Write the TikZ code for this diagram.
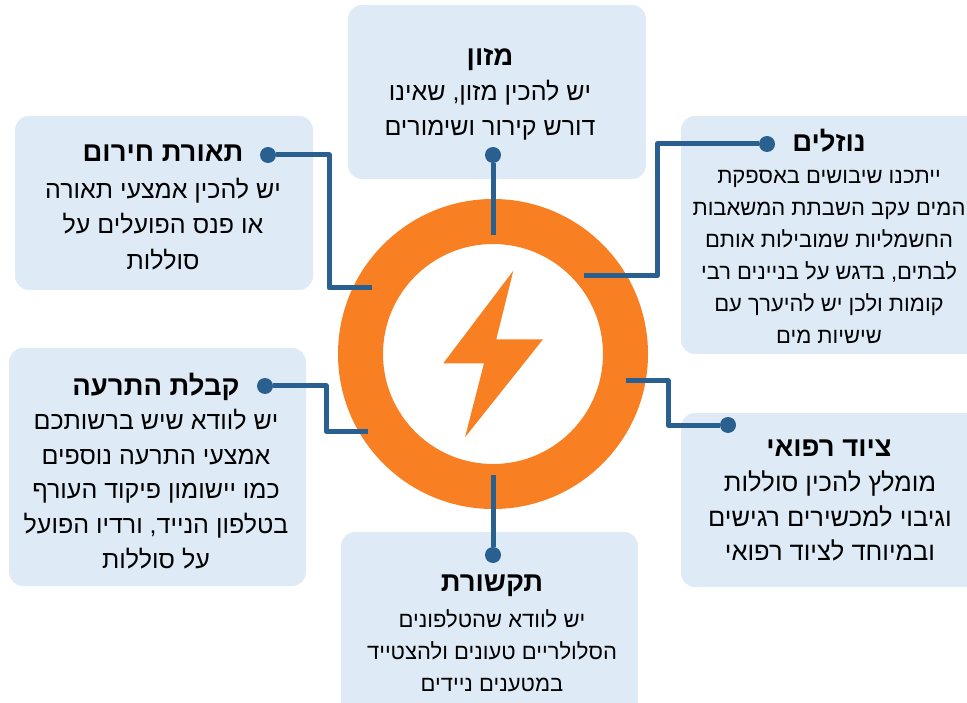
\documentclass[tikz,border=0pt]{standalone}
\usepackage{fontspec}
\TeXXeTstate=1
\setmainfont[Script=Hebrew]{Liberation Sans}
\definecolor{boxfill}{HTML}{DEEBF7}
\definecolor{linkcol}{HTML}{2A6090}
\definecolor{ringcol}{HTML}{F88022}
\newcommand{\hl}[1]{\beginR #1\endR}
\tikzset{
  infobox/.style={draw=none,fill=boxfill,rounded corners=14},
  ttl/.style={font=\bfseries\fontsize{27.5}{30}\selectfont,inner sep=0,text=black},
  bodya/.style={font=\fontsize{25}{35.5}\selectfont,align=center,inner sep=0,text=black},
  bodyb/.style={font=\fontsize{22}{32}\selectfont,align=center,inner sep=0,text=black},
  bodyc/.style={font=\fontsize{25.5}{34.5}\selectfont,align=center,inner sep=0,text=black},
  bodyd/.style={font=\fontsize{25}{34.7}\selectfont,align=center,inner sep=0,text=black},
  linkline/.style={draw=linkcol,line width=5,line join=round},
  linkdot/.style={circle,fill=linkcol,minimum size=16,inner sep=0}
}
\begin{document}
\begin{tikzpicture}[x=1pt,y=-1pt]
\clip (0,0) rectangle (967,703);
\fill[white] (0,0) rectangle (967,703);
\fill[infobox] (348,5) rectangle (646,179);
\fill[infobox] (15,116) rectangle (313,290);
\fill[infobox] (681,116) rectangle (1000,354);
\fill[infobox] (681,413) rectangle (1000,587);
\fill[infobox] (9,348) rectangle (306,586);
\fill[infobox] (341,532) rectangle (638,730);
\fill[ringcol,even odd rule] (493,354) circle[radius=155] (493,354) circle[radius=110];
\fill[ringcol] (513.3,270.7) -- (443.3,363.3) -- (484,363.3) -- (465,437.3) -- (543,339.3) -- (496.3,339.3) -- cycle;
\node[ttl] (t1) at (490,60) {\hl{מזון}};
\node[bodya] (b1) at (490,110) {\hl{יש להכין מזון, שאינו}\\\hl{דורש קירור ושימורים}};
\node[ttl] (t2) at (163,153) {\hl{תאורת חירום}};
\node[bodya] (b2) at (163,224) {\hl{יש להכין אמצעי תאורה}\\\hl{או פנס הפועלים על}\\\hl{סוללות}};
\node[ttl] (t3) at (829,141) {\hl{נוזלים}};
\node[bodyb] (b3) at (829,257) {\hl{ייתכנו שיבושים באספקת}\\\hl{המים עקב השבתת המשאבות}\\\hl{החשמליות שמובילות אותם}\\\hl{לבתים, בדגש על בניינים רבי}\\\hl{קומות ולכן יש להיערך עם}\\\hl{שישיות מים}};
\node[ttl] (t4) at (829,448) {\hl{ציוד רפואי}};
\node[bodyc] (b4) at (830,516) {\hl{מומלץ להכין סוללות}\\\hl{וגיבוי למכשירים רגישים}\\\hl{ובמיוחד לציוד רפואי}};
\node[ttl] (t5) at (156,387) {\hl{קבלת התרעה}};
\node[bodyd] (b5) at (156,489) {\hl{יש לוודא שיש ברשותכם}\\\hl{אמצעי התרעה נוספים}\\\hl{כמו יישומון פיקוד העורף}\\\hl{בטלפון הנייד, ורדיו הפועל}\\\hl{על סוללות}};
\node[ttl] (t6) at (492,586) {\hl{תקשורת}};
\node[bodyb] (b6) at (492,651) {\hl{יש לוודא שהטלפונים}\\\hl{הסלולריים טעונים ולהצטייד}\\\hl{במטענים ניידים}};
\node[linkdot] (d1) at (493,155) {};
\node[linkdot] (d2) at (268,155) {};
\node[linkdot] (d3) at (767,144) {};
\node[linkdot] (d4) at (728,425) {};
\node[linkdot] (d5) at (265,386) {};
\node[linkdot] (d6) at (493,555) {};
\coordinate (e1) at (493,235);
\coordinate (e2) at (372,288);
\coordinate (e3) at (584,276);
\coordinate (e4) at (626,381);
\coordinate (e5) at (368,431);
\coordinate (e6) at (493,475);
\draw[linkline] (d1) -- (e1);
\draw[linkline] (d2) -- (329,155) -- (329,288) -- (e2);
\draw[linkline] (d3) -- (657,144) -- (657,276) -- (e3);
\draw[linkline] (d4) -- (668,425) -- (668,381) -- (e4);
\draw[linkline] (d5) -- (326,386) -- (326,431) -- (e5);
\draw[linkline] (d6) -- (e6);
\end{tikzpicture}
\end{document}
